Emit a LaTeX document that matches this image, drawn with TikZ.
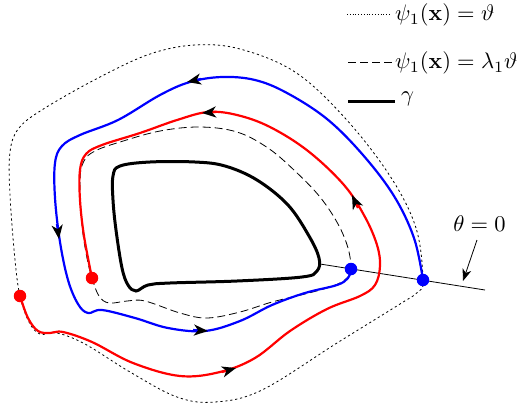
\documentclass[tikz,border=0pt]{standalone}
\usetikzlibrary{arrows.meta}
\tikzset{
  dotcurve/.style={line width=0.8pt, dash pattern=on 2.2pt off 2.8pt},
  dashcurve/.style={line width=0.8pt, dash pattern=on 8pt off 4pt},
  gammacurve/.style={line width=3pt, black},
  bluecurve/.style={line width=2.2pt, blue},
  redcurve/.style={line width=2.2pt, red},
  thinline/.style={line width=0.8pt, black},
  lbl/.style={inner sep=0pt, scale=2.25},
  midarrow/.style={line width=2.2pt, -{Stealth[black,length=14pt,width=11pt,inset=4pt]}},
  dotmark/.style={circle, inner sep=0pt, minimum size=12.5pt},
}
\begin{document}
\begin{tikzpicture}[x=1pt,y=-1pt]
\useasboundingbox (0,0) rectangle (520,408);
% outer dotted curve psi=vartheta
\draw[dotcurve] plot[smooth cycle, tension=0.6] coordinates {
 (423,280) (416,228) (390,176) (345,118) (295,72) (240,49) (195,45) (150,54) (100,77) (45,108) (19,128) (10,152) (10,195) (15,260) (20,296) (29,322) (40,334) (57,333) (85,344) (130,372) (177,397) (215,402) (262,390) (337,343) (400,304) (418,292)};
% dashed curve psi = lambda vartheta
\draw[dashcurve] plot[smooth cycle, tension=0.6] coordinates {
 (351,269) (348,248) (338,224) (320,197) (295,171) (268,148) (237,132) (200,127) (160,131) (120,142) (95,151) (84,161) (80,180) (82,225) (87,258) (92,278) (99,296) (109,303) (127,301) (145,301) (180,313) (207,318) (240,312) (272,302) (305,294) (333,286) (347,278)};
% gamma
\draw[gammacurve] plot[smooth cycle, tension=0.6] coordinates {
 (113,176) (120,166) (150,162) (195,162) (225,166) (257,180) (288,205) (309,236) (319,258) (317,271) (302,277) (237,281) (170,283) (148,285) (136,291) (128,285) (122,268) (116,230) (113,200)};
% theta = 0 line
\coordinate (t0) at (320,264);
\coordinate (t1) at (485,290);
\draw[thinline] (t0) -- (t1);
% blue trajectory
\draw[bluecurve] plot[smooth, tension=0.6] coordinates {
 (423,280) (414,238) (394,196) (363,155) (327,119) (287,93) (255,80) (222,77) (190,82) (160,95) (118,120) (80,135) (62,146) (55,163) (55,198) (60,242) (68,280) (78,304) (88,313) (102,310) (135,318) (168,328) (205,331) (240,321) (272,305) (305,293) (337,285) (348,278) (351,269)};
% red trajectory
\draw[redcurve] plot[smooth, tension=0.6] coordinates {
 (20,296) (28,318) (38,331) (50,333) (63,332) (92,342) (133,363) (180,376) (220,372) (255,358) (290,331) (327,309) (360,296) (375,285) (380,266) (377,245) (365,217) (344,185) (308,151) (270,127) (237,115) (208,112) (177,120) (140,133) (102,145) (86,154) (80,170) (80,200) (84,236) (92,278)};
% arrowheads
\draw[midarrow, blue] (201,79) -- (187,82);
\draw[midarrow, blue] (57,224) -- (59,239);
\draw[midarrow, blue] (193,330) -- (208,331);
\draw[midarrow, red] (216,112) -- (202,113);
\draw[midarrow, red] (358,208) -- (352,195);
\draw[midarrow, red] (222,372) -- (236,368);
% dots
\node[dotmark, fill=blue] (b1) at (423,280) {};
\node[dotmark, fill=blue] (b2) at (351,269) {};
\node[dotmark, fill=red] (r1) at (20,296) {};
\node[dotmark, fill=red] (r2) at (92,278) {};
% theta label
\node[lbl] (th) at (479.5,223.5) {$\theta=0$};
\coordinate (tha) at (477,240);
\coordinate (thb) at (463,281);
\draw[thinline, -{Stealth[length=12pt,width=9pt,inset=3.5pt]}] (tha) -- (thb);
% legend
\node[lbl, anchor=east] (L2) at (518,63) {$\psi_1(\mathbf{x})=\lambda_1\vartheta$};
\node[lbl, anchor=west] (L1) at (L2.west |- 0,15) {$\psi_1(\mathbf{x})=\vartheta$};
\node[lbl, anchor=west] (L3) at ([xshift=6pt]L2.west |- 0,99) {$\gamma$};
\coordinate (l1a) at (347,14); \coordinate (l1b) at ([xshift=-4pt]L1.west |- 0,14);
\draw[line width=0.8pt, dash pattern=on 0.9pt off 1.9pt] (l1a) -- (l1b);
\coordinate (l2a) at (348,62); \coordinate (l2b) at ([xshift=-2pt]L2.west |- 0,62);
\draw[dashcurve] (l2a) -- (l2b);
\coordinate (l3a) at (348,101); \coordinate (l3b) at (L2.west |- 0,101);
\draw[gammacurve] (l3a) -- (l3b);
\end{tikzpicture}
\end{document}
